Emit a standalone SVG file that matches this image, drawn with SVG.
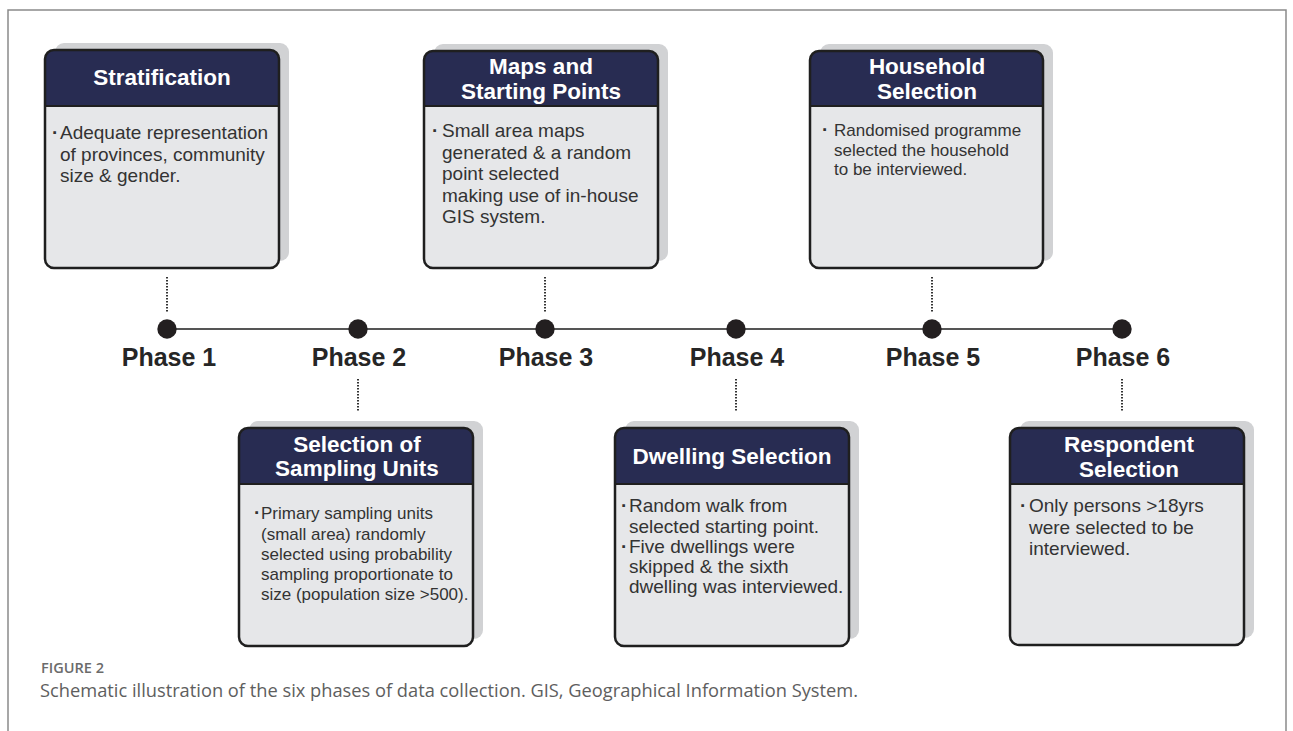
<svg xmlns="http://www.w3.org/2000/svg" width="1293" height="731" viewBox="0 0 1293 731">
<defs>
<style>
.frame{fill:none;stroke:#8a8a8a;stroke-width:1.5}
.shadow{fill:#d1d2d4}
.body{fill:#e6e7e9}
.head{fill:#282c52}
.outline{fill:none;stroke:#1f1f1f;stroke-width:2.5}
.div{stroke:#1f1f1f;stroke-width:2}
.title{font-family:"Liberation Sans",Arial,sans-serif;font-weight:bold;font-size:22.5px;fill:#ffffff;text-anchor:middle}
.txt{font-family:"Liberation Sans",Arial,sans-serif;font-size:19px;fill:#333333}
.txts{font-family:"Liberation Sans",Arial,sans-serif;font-size:17px;fill:#333333}
.bul{font-family:"Liberation Sans",Arial,sans-serif;font-size:19px;font-weight:bold;fill:#333333}
.phase{font-family:"Liberation Sans",Arial,sans-serif;font-weight:bold;font-size:25px;fill:#262626;text-anchor:middle}
.dot{fill:#231f20}
.tl{stroke:#555555;stroke-width:2}
.dotted{stroke:#333333;stroke-width:2;stroke-dasharray:1.5 1.5}
.figlab{font-family:"Open Sans","Liberation Sans",sans-serif;font-size:14px;font-weight:600;fill:#6b6b6b}
.cap{font-family:"Open Sans","Liberation Sans",sans-serif;font-size:18px;fill:#5e5e5e}
</style>
</defs>
<rect x="0" y="0" width="1293" height="731" fill="#ffffff"/>
<path class="frame" d="M8,731 V10 H1286 V731"/>

<g id="connectors">
<line class="tl" x1="167" y1="329" x2="1122" y2="329"/>
<line class="dotted" x1="167" y1="277" x2="167" y2="313"/>
<line class="dotted" x1="545" y1="277" x2="545" y2="313"/>
<line class="dotted" x1="932" y1="277" x2="932" y2="313"/>
<line class="dotted" x1="358" y1="379" x2="358" y2="412"/>
<line class="dotted" x1="736" y1="379" x2="736" y2="412"/>
<line class="dotted" x1="1122" y1="379" x2="1122" y2="412"/>
</g>

<g id="phases">
<circle class="dot" cx="167" cy="329" r="9.7"/>
<circle class="dot" cx="358" cy="329" r="9.7"/>
<circle class="dot" cx="545" cy="329" r="9.7"/>
<circle class="dot" cx="736" cy="329" r="9.7"/>
<circle class="dot" cx="932" cy="329" r="9.7"/>
<circle class="dot" cx="1122" cy="329" r="9.7"/>
<text class="phase" x="169" y="366">Phase 1</text>
<text class="phase" x="359" y="366">Phase 2</text>
<text class="phase" x="546" y="366">Phase 3</text>
<text class="phase" x="737" y="366">Phase 4</text>
<text class="phase" x="933" y="366">Phase 5</text>
<text class="phase" x="1123" y="366">Phase 6</text>
</g>

<g id="stratification">
<rect class="shadow" x="55" y="43" width="234" height="218" rx="9"/>
<rect class="body" x="45" y="50" width="234" height="218" rx="9"/>
<path class="head" d="M45,106 V59 Q45,50 54,50 H270 Q279,50 279,59 V106 Z"/>
<line class="div" x1="45" y1="106" x2="279" y2="106"/>
<rect class="outline" x="45" y="50" width="234" height="218" rx="9"/>
<text class="title" x="162" y="85">Stratification</text>
<text class="bul" x="52" y="139">·</text>
<text class="txt"><tspan x="60" y="139">Adequate representation</tspan><tspan x="60" y="160.5">of provinces, community</tspan><tspan x="60" y="182">size &amp; gender.</tspan></text>
</g>

<g id="maps">
<rect class="shadow" x="434" y="44" width="234" height="217" rx="9"/>
<rect class="body" x="424" y="51" width="234" height="217" rx="9"/>
<path class="head" d="M424,106 V60 Q424,51 433,51 H649 Q658,51 658,60 V106 Z"/>
<line class="div" x1="424" y1="106" x2="658" y2="106"/>
<rect class="outline" x="424" y="51" width="234" height="217" rx="9"/>
<text class="title"><tspan x="541" y="74">Maps and</tspan><tspan x="541" y="99">Starting Points</tspan></text>
<text class="bul" x="432" y="137">·</text>
<text class="txt"><tspan x="442" y="137">Small area maps</tspan><tspan x="442" y="158.5">generated &amp; a random</tspan><tspan x="442" y="180">point selected</tspan><tspan x="442" y="201.5">making use of in-house</tspan><tspan x="442" y="223">GIS system.</tspan></text>
</g>

<g id="household">
<rect class="shadow" x="820" y="44" width="233" height="217" rx="9"/>
<rect class="body" x="810" y="51" width="233" height="217" rx="9"/>
<path class="head" d="M810,106 V60 Q810,51 819,51 H1034 Q1043,51 1043,60 V106 Z"/>
<line class="div" x1="810" y1="106" x2="1043" y2="106"/>
<rect class="outline" x="810" y="51" width="233" height="217" rx="9"/>
<text class="title"><tspan x="927" y="74">Household</tspan><tspan x="927" y="99">Selection</tspan></text>
<text class="bul" x="822" y="136">·</text>
<text class="txts"><tspan x="834" y="136">Randomised programme</tspan><tspan x="834" y="155.5">selected the household</tspan><tspan x="834" y="175">to be interviewed.</tspan></text>
</g>

<g id="sampling">
<rect class="shadow" x="249" y="421" width="234" height="218" rx="9"/>
<rect class="body" x="239" y="428" width="234" height="218" rx="9"/>
<path class="head" d="M239,484 V437 Q239,428 248,428 H464 Q473,428 473,437 V484 Z"/>
<line class="div" x1="239" y1="484" x2="473" y2="484"/>
<rect class="outline" x="239" y="428" width="234" height="218" rx="9"/>
<text class="title"><tspan x="357" y="452">Selection of</tspan><tspan x="357" y="476">Sampling Units</tspan></text>
<text class="bul" x="254" y="519">·</text>
<text class="txts"><tspan x="261" y="519">Primary sampling units</tspan><tspan x="261" y="539.5">(small area) randomly</tspan><tspan x="261" y="560">selected using probability</tspan><tspan x="261" y="580">sampling proportionate to</tspan><tspan x="261" y="600">size (population size &gt;500).</tspan></text>
</g>

<g id="dwelling">
<rect class="shadow" x="625" y="421" width="234" height="218" rx="9"/>
<rect class="body" x="615" y="428" width="234" height="218" rx="9"/>
<path class="head" d="M615,484 V437 Q615,428 624,428 H840 Q849,428 849,437 V484 Z"/>
<line class="div" x1="615" y1="484" x2="849" y2="484"/>
<rect class="outline" x="615" y="428" width="234" height="218" rx="9"/>
<text class="title" x="732" y="464">Dwelling Selection</text>
<text class="bul" x="621" y="512">·</text>
<text class="bul" x="621" y="553">·</text>
<text class="txt"><tspan x="629" y="512">Random walk from</tspan><tspan x="629" y="532.5">selected starting point.</tspan><tspan x="629" y="553">Five dwellings were</tspan><tspan x="629" y="573">skipped &amp; the sixth</tspan><tspan x="629" y="593">dwelling was interviewed.</tspan></text>
</g>

<g id="respondent">
<rect class="shadow" x="1020" y="421" width="234" height="217" rx="9"/>
<rect class="body" x="1010" y="428" width="234" height="217" rx="9"/>
<path class="head" d="M1010,484 V437 Q1010,428 1019,428 H1235 Q1244,428 1244,437 V484 Z"/>
<line class="div" x1="1010" y1="484" x2="1244" y2="484"/>
<rect class="outline" x="1010" y="428" width="234" height="217" rx="9"/>
<text class="title"><tspan x="1129" y="452">Respondent</tspan><tspan x="1129" y="477">Selection</tspan></text>
<text class="bul" x="1020" y="512">·</text>
<text class="txt"><tspan x="1029" y="512">Only persons &gt;18yrs</tspan><tspan x="1029" y="533.5">were selected to be</tspan><tspan x="1029" y="555">interviewed.</tspan></text>
</g>

<g id="caption">
<text class="figlab" x="41" y="673" textLength="63" lengthAdjust="spacingAndGlyphs">FIGURE 2</text>
<text class="cap" x="40" y="697" textLength="818" lengthAdjust="spacingAndGlyphs">Schematic illustration of the six phases of data collection. GIS, Geographical Information System.</text>
</g>
</svg>
